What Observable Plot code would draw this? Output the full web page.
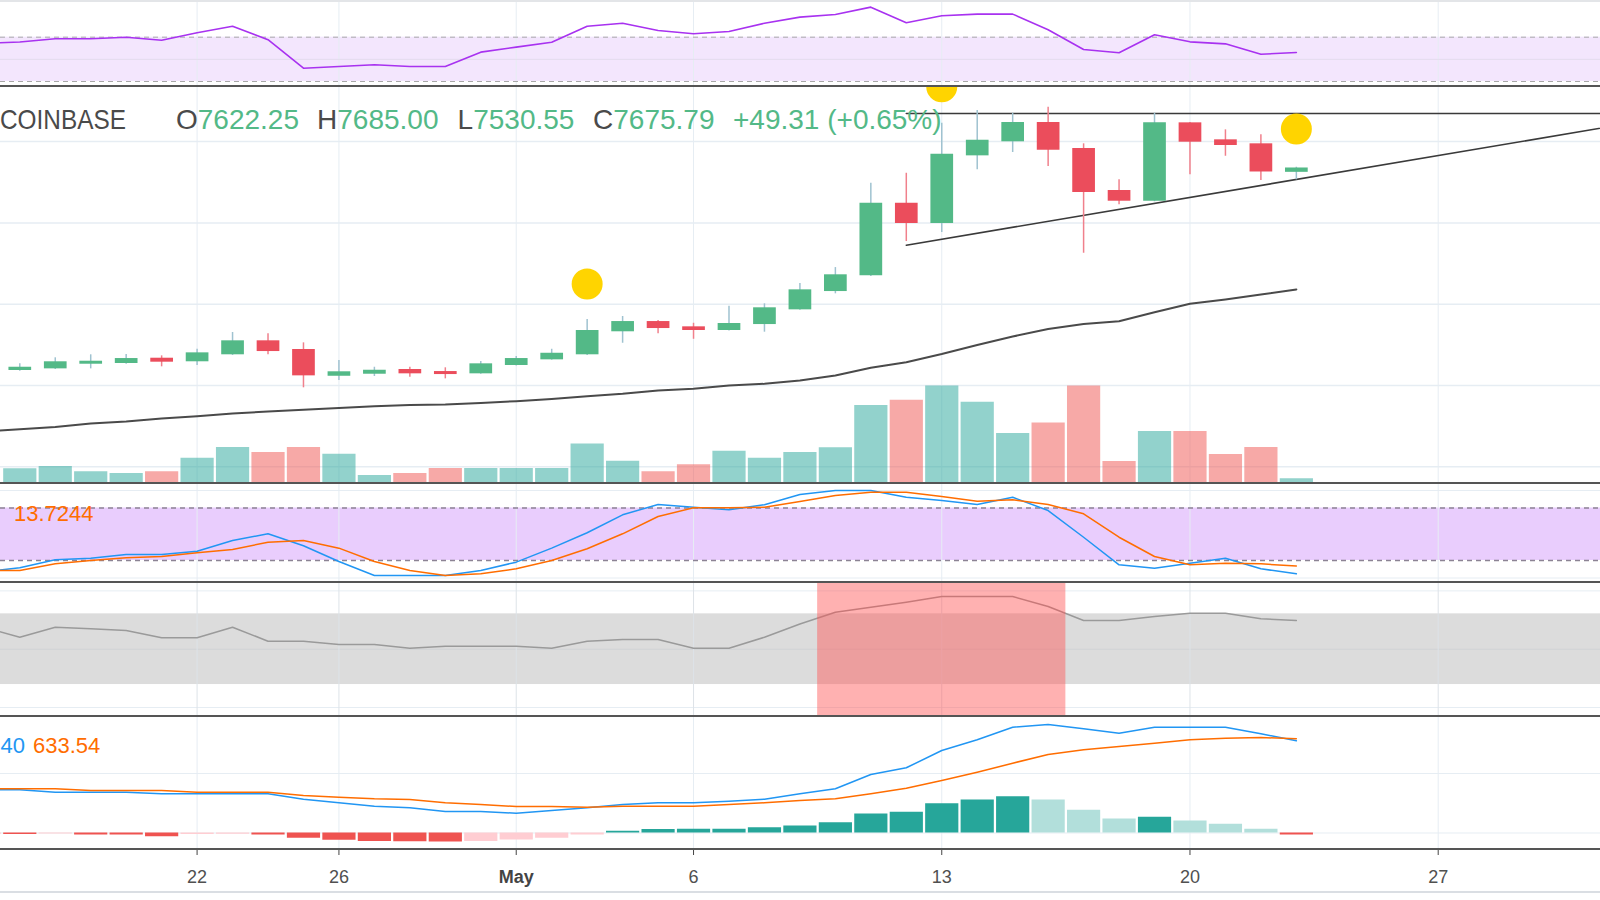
<!DOCTYPE html>
<html><head><meta charset="utf-8">
<script src="https://cdn.jsdelivr.net/npm/d3@7"></script>
<script src="https://cdn.jsdelivr.net/npm/@observablehq/plot@0.6"></script>
<style>
html,body{margin:0;padding:0;background:#fff;}
#chart{position:relative;width:1600px;height:900px;overflow:hidden;background:#fff;font-family:"Liberation Sans",Arial,sans-serif;}
.pane{position:absolute;left:0;width:1600px;}
.pane svg{display:block;}
.lbl{position:absolute;white-space:nowrap;line-height:1;}
.sep{position:absolute;left:0;width:1600px;}
</style></head><body><div id="chart"></div>
<script>
// ---------------- data ----------------
const firstDay = "2019-04-16";          // indicator series start (Apr 16 .. May 23)
const candleOpen  = [5185,5205,5262,5271,5336,5292,5378,5550,5443,5114,5139,5197,5172,5144,5246,5316,5378,5661,5787,5722,5677,5750,5931,6156,6349,7242,6993,7825,7998,8235,7915,7399,7267,8231,8022,7973,7622.25];
const candleHigh  = [5267,5341,5378,5381,5365,5446,5652,5636,5525,5308,5225,5225,5218,5295,5357,5446,5812,5849,5800,5766,5975,6005,6255,6451,7488,7611,8226,8383,8349,8423,7973,7530,8349,8235,8145,8084,7685.00];
const candleLow   = [5176,5197,5205,5262,5230,5246,5370,5378,4972,5062,5111,5102,5082,5140,5240,5312,5369,5520,5636,5569,5670,5656,5925,6128,6340,6771,6882,7653,7866,7694,6627,7223,7260,7592,7820,7522,7530.55];
const candleClose = [5225,5292,5299,5332,5287,5402,5550,5418,5119,5169,5188,5144,5135,5267,5332,5397,5677,5787,5701,5677,5763,5956,6177,6362,7242,6993,7845,8017,8235,7894,7374,7267,8231,7993,7952,7626.48,7675.79];
const volume      = [4250,4960,3320,2790,3320,7530,10850,9300,10850,8770,2170,2790,4340,4340,4340,4340,11870,6600,3320,5490,9700,7530,9300,10760,23780,25420,29850,24800,15190,18380,29850,6510,15810,15810,8680,10850,1150];
const maValues    = [4434,4461,4490,4533,4557,4594,4622,4656,4680,4702,4723,4744,4760,4766,4785,4808,4834,4868,4898,4938,4959,5000,5021,5062,5123,5218,5287,5387,5498,5603,5695,5756,5791,5902,6005,6058,6119,6181];
const rsiValues   = [64.3,65.7,68.6,68.6,70,67.3,74,79.9,67.7,42,43.5,45.1,43.5,43.5,56.5,61,65.5,79.9,82.6,76,73.1,75.1,82.6,88.1,90.5,97.1,83,89.3,90.8,90.8,76.7,58.9,55.9,72.2,65.8,64,54.6,56.2];
const stochK      = [7.2,11.7,20.8,22.6,26.9,26.9,30.6,42.9,50.5,36.8,18.9,2.9,2.9,2.9,8.6,18.1,34.1,51.7,72.2,84,80.9,77.9,83.7,95.4,100,100,92.3,88.6,84,92.3,77.1,46.6,15.1,11.2,16.9,22.6,10.5,4.8];
const stochD      = [8.6,8.6,16.2,20,23.1,24.6,28.8,32.6,40.9,42.9,34.1,18.9,8.6,2.9,4.8,10.5,20,33.4,50.5,70.3,80.2,80.2,80.9,87.4,94.3,98.1,98.1,93.1,87.8,89.4,84,73.4,46.6,24.6,15.1,16.9,16.2,13.7244];
const greyValues  = [61.7,33.9,62.2,57.7,52.9,32.3,32.3,62.2,22.6,22.6,13.3,13.3,2.8,8.5,8.5,8.5,2.8,22.6,27.4,27.4,2.8,2.8,33.9,71.3,104.7,118.8,133,149.1,149.1,149.1,120.8,81.2,81.2,92.5,101.8,101.8,86,81.2];
const macdValues  = [290.5,290.5,274.4,274.4,274.4,263.6,263.6,263.6,263.6,227.3,203.1,180.2,169.5,144.6,144.6,133.2,151.3,169.5,191.7,203.1,203.1,213.9,227.3,263.6,297.2,393.4,438.5,554.8,626.8,711.5,729.7,700.7,671.2,711.5,711.5,711.5,667.1,620.40];
const signalValues= [297.2,297.2,297.2,285.8,285.8,285.8,274.4,274.4,274.4,252.2,240.8,230,225.3,203.1,191.7,178.2,178.2,173.5,180.2,180.2,180.2,191.7,203.1,218.6,230,263.6,301.3,353.1,408.9,469.4,527.9,559.5,581.7,603.9,627,638,642,633.54];
const histValues  = [-9,-10,-7,-13,-14,-25,-10,-9,-13,-36,-49,-58,-59,-60,-58,-47,-36,-13,11,24,25,26,36,47,69,128,139,197,222,244,222,153,94,106,81,59,25,-13];
const signalDates = ["2019-05-03","2019-05-13","2019-05-23"];
const signalPrice = [6248,8675,8155];
const trendDates  = ["2019-05-12","2019-06-01"];
const trendPrice  = [6726,8196];
const resistDates = ["2019-05-12","2019-06-01"];
const resistPrice = [8346,8346];
const highlightRange = ["2019-05-10","2019-05-16"];
const tickDates   = ["2019-04-22","2019-04-26","2019-05-01","2019-05-06","2019-05-13","2019-05-20","2019-05-27"];
const tickLabels  = ["22","26","May","6","13","20","27"];
const monthTicks  = ["2019-05-01"];
const priceGrid   = [4000,5000,6000,7000,8000];
const symbol = "COINBASE";

// ---------------- build ----------------
const DAY = 864e5;
const D = s => new Date(s + "T00:00:00Z");
const days = d3.utcDays(D(firstDay), d3.utcDay.offset(D(firstDay), rsiValues.length));
const candles = candleOpen.map((o, i) => ({date: days[i + 1], open: o, high: candleHigh[i], low: candleLow[i], close: candleClose[i], volume: volume[i]}));
const ind = days.map((date, i) => ({date, ma: maValues[i], rsi: rsiValues[i], k: stochK[i], d: stochD[i], grey: greyValues[i], macd: macdValues[i], signal: signalValues[i], hist: histValues[i], prev: i ? histValues[i - 1] : histValues[0]}));
const up = candles.filter(d => d.close >= d.open), down = candles.filter(d => d.close < d.open);
const signals = signalDates.map((s, i) => ({date: D(s), price: signalPrice[i]}));
const trend = trendDates.map((s, i) => ({date: D(s), price: trendPrice[i]}));
const resist = resistDates.map((s, i) => ({date: D(s), price: resistPrice[i]}));
const ticks = tickDates.map(D);
const monthSet = new Set(monthTicks.map(s => +D(s)));
const tickMap = new Map(ticks.map((t, i) => [+t, tickLabels[i]]));

const origin = D("2019-04-22");
const xDomain = [new Date(+origin - 5.544 * DAY), new Date(+origin + 39.577 * DAY)];
const GRID = "#e6edf3";
const UP = "#53b987", DOWN = "#eb4d5c";
const chart = document.getElementById("chart");

function pane(top, height, opts) {
  const svg = Plot.plot(Object.assign({
    width: 1600, height, margin: 0,
    x: {type: "utc", domain: xDomain, axis: null},
    style: {background: "transparent", fontFamily: "Liberation Sans, Arial, sans-serif", color: "#505050", overflow: "hidden"}
  }, opts));
  const div = document.createElement("div");
  div.className = "pane"; div.style.top = top + "px";
  div.append(svg); chart.append(div);
}
function sep(y, h, color) {
  const d = document.createElement("div");
  d.className = "sep"; d.style.top = y + "px"; d.style.height = h + "px"; d.style.background = color;
  chart.append(d);
}
function label(x, top, size, parts) {
  const d = document.createElement("div");
  d.className = "lbl"; d.style.left = x + "px"; d.style.top = top + "px"; d.style.fontSize = size + "px";
  for (const [t, c, extra] of parts) {
    const s = document.createElement("span"); s.textContent = t; s.style.color = c;
    if (extra) Object.assign(s.style, extra);
    d.append(s);
  }
  chart.append(d);
}

// RSI pane
pane(0, 86, {
  y: {domain: [25.5, 103.1], axis: null},
  marks: [
    Plot.rectY([0], {y1: 30, y2: 70, fill: "#f3e6fd"}),
    Plot.ruleX(ticks, {stroke: GRID}),
    Plot.ruleY([50], {stroke: "#e4dcee"}),
    Plot.ruleY([30, 70], {stroke: "#a8a8a8", strokeDasharray: "5,4"}),
    Plot.line(ind, {x: "date", y: "rsi", stroke: "#a832f0", strokeWidth: 1.6})
  ]
});

// main price pane (grid)
pane(86, 397, {
  y: {domain: [3795, 8678], axis: null},
  marks: [
    Plot.ruleY(priceGrid, {stroke: GRID, strokeWidth: 1.5}),
    Plot.ruleX(ticks, {stroke: GRID})
  ]
});
// volume overlay
pane(385, 97, {
  y: {domain: [0, 30000], axis: null},
  marks: [
    Plot.ruleX(up, {x: "date", y1: 0, y2: "volume", stroke: "#26a69a", strokeOpacity: 0.5, strokeWidth: 33.2}),
    Plot.ruleX(down, {x: "date", y1: 0, y2: "volume", stroke: "#ef5350", strokeOpacity: 0.5, strokeWidth: 33.2})
  ]
});
// candles, lines, signals
pane(86, 397, {
  y: {domain: [3795, 8678], axis: null},
  marks: [
    Plot.line(ind, {x: "date", y: "ma", stroke: "#4a4a4a", strokeWidth: 2}),
    Plot.line(resist, {x: "date", y: "price", stroke: "#3a3a3a", strokeWidth: 1.6, clip: true}),
    Plot.line(trend, {x: "date", y: "price", stroke: "#3a3a3a", strokeWidth: 1.6, clip: true}),
    Plot.ruleX(up, {x: "date", y1: "low", y2: "high", stroke: "#9fc2d0", strokeWidth: 1.5}),
    Plot.ruleX(down, {x: "date", y1: "low", y2: "high", stroke: "#f0808c", strokeWidth: 1.5}),
    Plot.ruleX(up, {x: "date", y1: "open", y2: "close", stroke: UP, strokeWidth: 22.7}),
    Plot.ruleX(down, {x: "date", y1: "open", y2: "close", stroke: DOWN, strokeWidth: 22.7}),
    Plot.dot(signals, {x: "date", y: "price", r: 15.5, fill: "#ffd400", clip: true})
  ]
});

// Stochastic pane
pane(483, 99, {
  y: {domain: [-5.14, 108], axis: null},
  marks: [
    Plot.rectY([0], {y1: 20, y2: 80, fill: "#e9cdfd"}),
    Plot.ruleY([0, 100], {stroke: GRID}),
    Plot.ruleX(ticks, {stroke: GRID}),
    Plot.ruleY([20, 80], {stroke: "#8c8394", strokeDasharray: "5,4", strokeWidth: 1.3}),
    Plot.line(ind, {x: "date", y: "k", stroke: "#2196f3", strokeWidth: 1.5}),
    Plot.line(ind, {x: "date", y: "d", stroke: "#ff6d00", strokeWidth: 1.5})
  ]
});

// Grey oscillator pane
const hl = [{start: D(highlightRange[0]), end: D(highlightRange[1])}];
pane(582, 134, {
  y: {domain: [-190.4, 188.7], axis: null},
  marks: [
    Plot.ruleY([-165, 165], {stroke: GRID}),
    Plot.rectY([0], {y1: -100, y2: 100, fill: "#dcdcdc"}),
    Plot.ruleY([0], {stroke: "#d0d3d6"}),
    Plot.ruleX(ticks, {stroke: "#dde3e8"}),
    Plot.line(ind, {x: "date", y: "grey", stroke: "#9a9a9a", strokeWidth: 1.5}),
    Plot.rect(hl, {x1: d => new Date(+d.start - DAY / 2), x2: d => new Date(+d.end + DAY / 2), fill: "#ff5252", fillOpacity: 0.45})
  ]
});

// MACD pane + time axis
const histColor = d => d.hist >= 0 ? (d.hist > d.prev ? "#26a69a" : "#b2dfdb") : (d.hist < d.prev ? "#ef5350" : "#ffcdd2");
const axisOpts = {tickFormat: d => tickMap.get(+d), tickSize: 6, tickPadding: 15, fontSize: 18, stroke: "#444", fill: "#505050"};
pane(716, 176, {
  marginBottom: 43,
  y: {domain: [-111, 783.5], axis: null},
  color: {type: "identity"},
  marks: [
    Plot.ruleY([0, 400], {stroke: GRID}),
    Plot.ruleX(ticks, {stroke: GRID}),
    Plot.ruleX(ind, {x: "date", y1: 0, y2: "hist", stroke: histColor, strokeWidth: 33.2}),
    Plot.line(ind, {x: "date", y: "macd", stroke: "#2196f3", strokeWidth: 1.5}),
    Plot.line(ind, {x: "date", y: "signal", stroke: "#ff6d00", strokeWidth: 1.5}),
    Plot.axisX({...axisOpts, ticks: ticks.filter(t => !monthSet.has(+t))}),
    Plot.axisX({...axisOpts, ticks: ticks.filter(t => monthSet.has(+t)), fontWeight: "bold", fill: "#444"})
  ]
});

// separators / borders
sep(0, 2, "#e3e5e8");
sep(85, 2, "#555");
sep(482, 2, "#555");
sep(581, 2, "#555");
sep(715, 2, "#555");
sep(848, 2, "#555");
sep(891, 2, "#dadee3");

// header (last candle)
const last = candles[candles.length - 1], prevC = candles[candles.length - 2].close;
const chg = last.close - prevC, pct = chg / prevC * 100;
const fmt = v => v.toFixed(2);
const DARK = "#4a4a4a";
label(0, 106.3, 28, [[symbol, DARK, {display: "inline-block", transform: "scaleX(0.87)", transformOrigin: "left"}]]);
label(176, 106.3, 28, [["O", DARK], [fmt(last.open), UP]]);
label(317, 106.3, 28, [["H", DARK], [fmt(last.high), UP]]);
label(457.6, 106.3, 28, [["L", DARK], [fmt(last.low), UP]]);
label(593, 106.3, 28, [["C", DARK], [fmt(last.close), UP]]);
label(733, 106.3, 28, [[(chg >= 0 ? "+" : "") + fmt(chg) + " (" + (pct >= 0 ? "+" : "") + fmt(pct) + "%)", UP]]);
// indicator value labels (the MACD value is scrolled off the left edge: only its last digits show)
label(14, 503.2, 22, [[String(stochD[stochD.length - 1]), "#ff6d00"]]);
label(0.5, 734.8, 22, [[macdValues[macdValues.length - 1].toFixed(2).slice(-2), "#2196f3"]]);
label(33, 734.8, 22, [[signalValues[signalValues.length - 1].toFixed(2), "#ff6d00"]]);
</script></body></html>
